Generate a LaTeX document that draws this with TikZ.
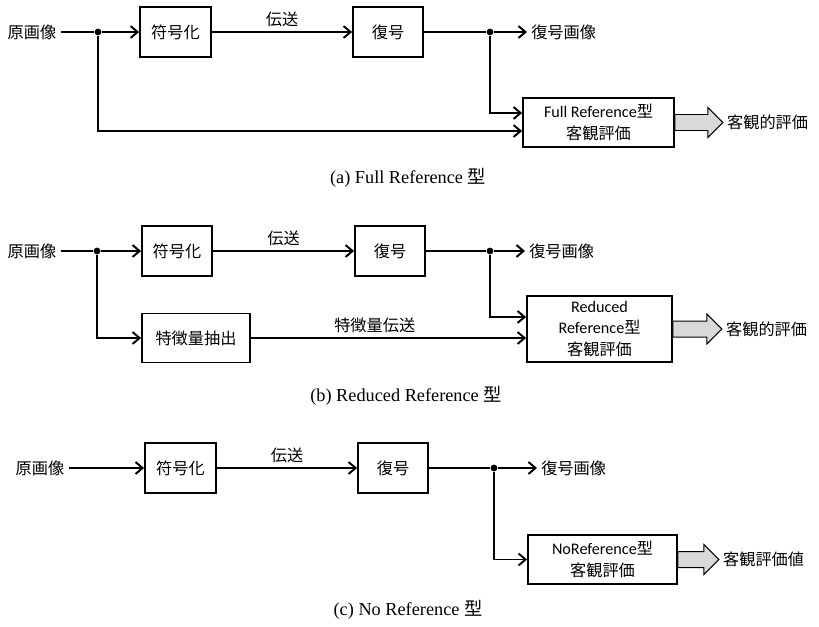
\documentclass[tikz,border=0pt]{standalone}
\usepackage{fontspec}
\setmainfont{Liberation Serif}
\newfontfamily\jpfont{Noto Sans CJK JP}
\newfontfamily\calfont{Carlito}
\usetikzlibrary{arrows.meta}
\newlength\pxl
\setlength\pxl{0.025cm}
\newcommand\entxt[1]{{\calfont #1}}
\tikzstyle{wire} = [line width=1.4pt]
\tikzstyle{sig}  = [wire, -{Straight Barb[length=5pt,width=8.5pt]}]
\tikzstyle{blk}  = [draw, line width=1.3pt, minimum height=50\pxl, inner sep=0pt, align=center,
                    font=\jpfont\fontsize{11.5}{15.5}\selectfont]
\tikzstyle{lbl}  = [font=\jpfont\fontsize{11.5}{14}\selectfont, inner sep=4\pxl]
\tikzstyle{dot}  = [circle, fill, inner sep=0pt, minimum size=0.17cm]
\tikzstyle{fat}  = [draw, line width=0.7pt, fill=black!15]
\tikzstyle{captxt} = [font=\fontsize{13}{14}\selectfont]

\begin{document}
\begin{tikzpicture}[x=0.025cm, y=-0.025cm]
    \useasboundingbox (0,0) rectangle (819,626);
    % (a) Full Reference
    \node[lbl] (src1) at (32,32) {原画像};
    \node[blk, minimum width=71\pxl] (enc1) at (175.5,32) {符号化};
    \node[blk, minimum width=70\pxl] (dec1) at (388,32) {復号};
    \node[blk, minimum width=151\pxl, minimum height=49\pxl] (fr) at (598.5,122.5) {\entxt{Full Reference}型\\客観評価};
    \node[dot] (j1) at (98,32) {};
    \node[dot] (j2) at (490,32) {};
    \node[lbl, anchor=west] (out1) at (527,32) {復号画像};
    \draw[wire] (src1) -- (j1);
    \draw[sig] (j1) -- (enc1);
    \draw[sig] (enc1) -- (dec1) node[lbl, midway, above] (tx1) {伝送};
    \draw[wire] (dec1) -- (j2);
    \draw[sig] (j2) -- (out1);
    \draw[sig] (j2) |- ([yshift=9.5\pxl]fr.west);
    \draw[sig] (j1) |- ([yshift=-8.5\pxl]fr.west);
    \node[captxt] (capa) at (408,178) {(a) Full Reference {\jpfont 型}};

    % (b) Reduced Reference
    \node[lbl] (src2) at (32,251) {原画像};
    \node[blk, minimum width=70\pxl] (enc2) at (177,251) {符号化};
    \node[blk, minimum width=70\pxl] (dec2) at (390,251) {復号};
    \node[blk, minimum width=108\pxl, minimum height=49\pxl] (feat) at (196,338) {特徴量抽出};
    \node[blk, minimum width=145\pxl, minimum height=66\pxl] (rr) at (599.5,329) {\entxt{Reduced}\\\entxt{Reference}型\\客観評価};
    \node[dot] (j3) at (97,251) {};
    \node[dot] (j4) at (490,251) {};
    \node[lbl, anchor=west] (out2) at (525,251) {復号画像};
    \draw[wire] (src2) -- (j3);
    \draw[sig] (j3) -- (enc2);
    \draw[sig] (j3) |- (feat);
    \draw[sig] (enc2) -- (dec2) node[lbl, midway, above] (tx2) {伝送};
    \draw[wire] (dec2) -- (j4);
    \draw[sig] (j4) -- (out2);
    \draw[sig] (j4) |- ([yshift=12\pxl]rr.west);
    \draw[sig] (feat) -- (feat -| rr.west) node[lbl, pos=0.45, above] (tx3) {特徴量伝送};
    \node[captxt] (capb) at (406,396) {(b) Reduced Reference {\jpfont 型}};

    % (c) No Reference
    \node[lbl] (src3) at (40,468) {原画像};
    \node[blk, minimum width=71\pxl] (enc3) at (180.5,468) {符号化};
    \node[blk, minimum width=70\pxl] (dec3) at (393,468) {復号};
    \node[blk, minimum width=149\pxl, minimum height=49\pxl] (nr) at (602.5,559.5) {\entxt{NoReference}型\\客観評価};
    \node[dot] (j5) at (494,468) {};
    \node[lbl, anchor=west] (out3) at (537,468) {復号画像};
    \draw[sig] (src3) -- (enc3);
    \draw[sig] (enc3) -- (dec3) node[lbl, midway, above] (tx4) {伝送};
    \draw[wire] (dec3) -- (j5);
    \draw[sig] (j5) -- (out3);
    \draw[sig] (j5) |- (nr);
    \node[captxt] (capc) at (408,610) {(c) No Reference {\jpfont 型}};

    % result arrows
    \foreach \b/\len/\txt in {fr/48/客観的評価, rr/49/客観的評価, nr/41/客観評価値} {
      \draw[fat] (\b.east) ++(0,-8) -- ++({\len-15},0) -- ++(0,-7) -- ++(15,15)
        -- ++(-15,15) -- ++(0,-7) -- ++({15-\len},0) -- cycle;
      \node[lbl, anchor=west] (\b-res) at ([xshift=\len\pxl]\b.east) {\txt};
    }
\end{tikzpicture}
\end{document}
